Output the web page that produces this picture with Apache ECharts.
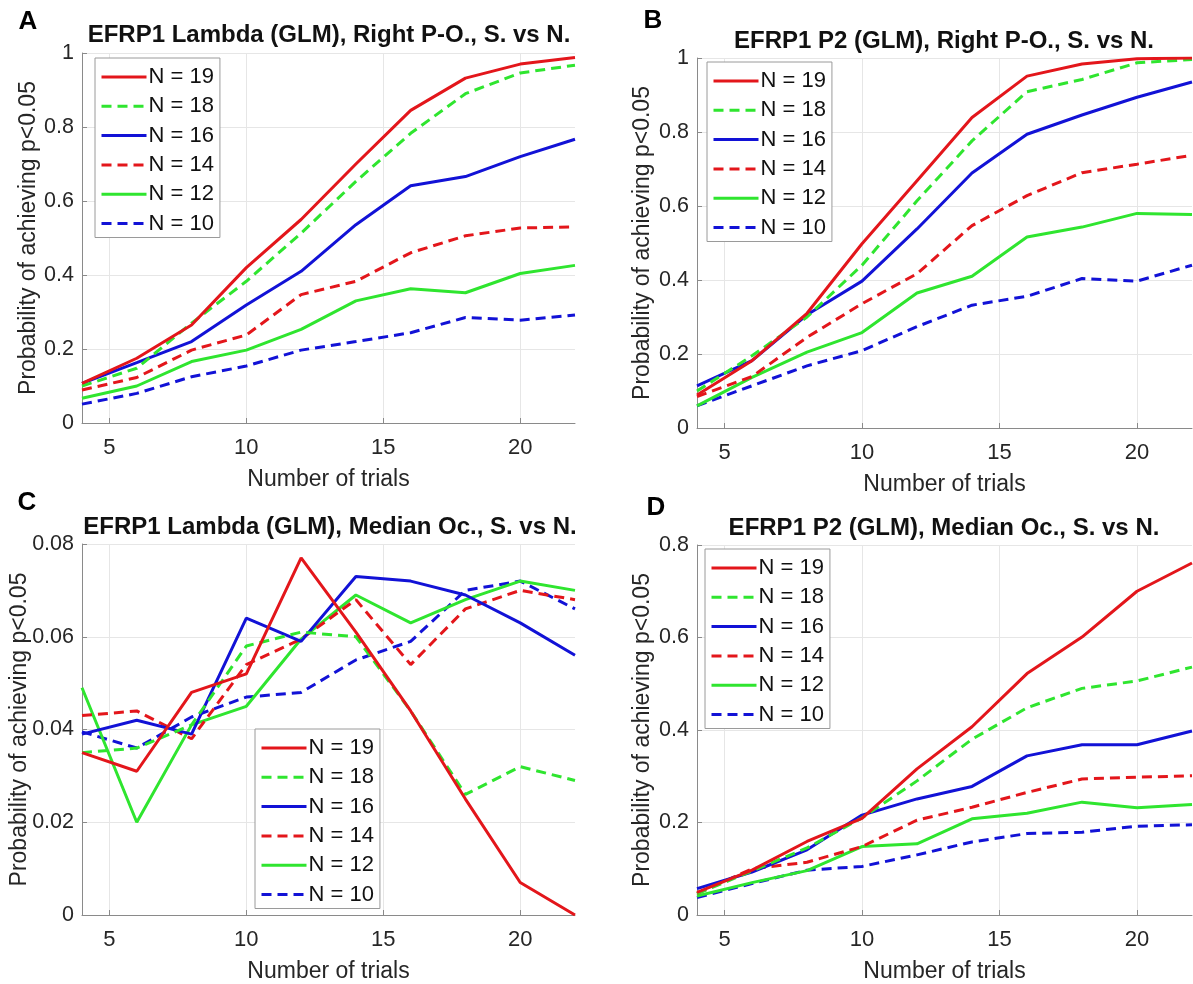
<!DOCTYPE html>
<html><head><meta charset="utf-8">
<script src="https://cdn.jsdelivr.net/npm/echarts@6/dist/echarts.min.js"></script>
<style>html,body{margin:0;padding:0;background:#fff}#c{width:1193px;height:984px}</style>
</head><body><div id="c"></div><script>
// ---- data ----
const trials = [4, 6, 8, 10, 12, 14, 16, 18, 20, 22];
const seriesNames = ['N = 19', 'N = 18', 'N = 16', 'N = 14', 'N = 12', 'N = 10'];
const xTickValues = [5, 10, 15, 20];
const panelTitles = [
  'EFRP1 Lambda (GLM), Right P-O., S. vs N.',
  'EFRP1 P2 (GLM), Right P-O., S. vs N.',
  'EFRP1 Lambda (GLM), Median Oc., S. vs N.',
  'EFRP1 P2 (GLM), Median Oc., S. vs N.'
];
const panelLetters = ['A', 'B', 'C', 'D'];
const xAxisName = 'Number of trials';
const yAxisName = 'Probability of achieving p<0.05';
const yMaxima = [1, 1, 0.08, 0.8];
const yIntervals = [0.2, 0.2, 0.02, 0.2];

// Panel A
const aN19 = [0.107, 0.175, 0.265, 0.420, 0.550, 0.700, 0.845, 0.932, 0.970, 0.988];
const aN18 = [0.100, 0.148, 0.270, 0.383, 0.513, 0.653, 0.783, 0.890, 0.946, 0.967];
const aN16 = [0.107, 0.163, 0.220, 0.319, 0.410, 0.536, 0.641, 0.666, 0.720, 0.767];
const aN14 = [0.089, 0.123, 0.197, 0.238, 0.347, 0.383, 0.460, 0.506, 0.527, 0.530];
const aN12 = [0.067, 0.100, 0.166, 0.197, 0.253, 0.330, 0.363, 0.352, 0.404, 0.426];
const aN10 = [0.051, 0.080, 0.125, 0.154, 0.197, 0.220, 0.244, 0.285, 0.278, 0.292];
// Panel B
const bN19 = [0.089, 0.182, 0.310, 0.498, 0.668, 0.839, 0.951, 0.984, 0.998, 1.000];
const bN18 = [0.100, 0.195, 0.300, 0.440, 0.614, 0.776, 0.909, 0.942, 0.987, 0.996];
const bN16 = [0.114, 0.182, 0.306, 0.397, 0.538, 0.689, 0.794, 0.846, 0.894, 0.935];
const bN14 = [0.085, 0.139, 0.245, 0.336, 0.417, 0.547, 0.628, 0.690, 0.713, 0.737];
const bN12 = [0.060, 0.137, 0.205, 0.258, 0.365, 0.410, 0.516, 0.543, 0.580, 0.577];
const bN10 = [0.060, 0.114, 0.168, 0.209, 0.274, 0.332, 0.356, 0.404, 0.397, 0.440];
// Panel C
const cN19 = [0.035, 0.031, 0.048, 0.052, 0.077, 0.061, 0.044, 0.025, 0.007, 0.000];
const cN18 = [0.035, 0.036, 0.041, 0.058, 0.061, 0.060, 0.044, 0.026, 0.032, 0.029];
const cN16 = [0.039, 0.042, 0.039, 0.064, 0.059, 0.073, 0.072, 0.069, 0.063, 0.056];
const cN14 = [0.043, 0.044, 0.038, 0.054, 0.0595, 0.068, 0.054, 0.066, 0.070, 0.068];
const cN12 = [0.049, 0.020, 0.041, 0.045, 0.0595, 0.069, 0.063, 0.068, 0.072, 0.070];
const cN10 = [0.0395, 0.036, 0.0427, 0.047, 0.048, 0.055, 0.059, 0.070, 0.072, 0.066];
// Panel D
const dN19 = [0.049, 0.097, 0.159, 0.209, 0.316, 0.407, 0.522, 0.601, 0.700, 0.761];
const dN18 = [0.046, 0.095, 0.145, 0.210, 0.290, 0.380, 0.448, 0.490, 0.506, 0.536];
const dN16 = [0.057, 0.093, 0.141, 0.216, 0.251, 0.278, 0.344, 0.368, 0.368, 0.398];
const dN14 = [0.046, 0.100, 0.114, 0.148, 0.205, 0.233, 0.265, 0.294, 0.298, 0.301];
const dN12 = [0.041, 0.070, 0.096, 0.148, 0.154, 0.208, 0.220, 0.244, 0.232, 0.239];
const dN10 = [0.038, 0.068, 0.097, 0.105, 0.130, 0.158, 0.176, 0.179, 0.192, 0.195];

const panels = [
  [aN19, aN18, aN16, aN14, aN12, aN10],
  [bN19, bN18, bN16, bN14, bN12, bN10],
  [cN19, cN18, cN16, cN14, cN12, cN10],
  [dN19, dN18, dN16, dN14, dN12, dN10]
];

// ---- styling / layout ----
const RED = '#e3161b', GREEN = '#2fe52f', BLUE = '#1212d6';
const lineStyles = [
  { color: RED, type: 'solid' },
  { color: GREEN, type: [10, 6] },
  { color: BLUE, type: 'solid' },
  { color: RED, type: [10, 6] },
  { color: GREEN, type: 'solid' },
  { color: BLUE, type: [10, 6] }
];
const FONT = '"Liberation Sans", Arial, Helvetica, sans-serif';
const grids = [
  { left: 82, top: 53, width: 493, height: 370 },
  { left: 697, top: 58, width: 495, height: 370 },
  { left: 82, top: 544, width: 493, height: 371 },
  { left: 697, top: 545, width: 495, height: 370 }
];
const titlePos = [[329, 22], [944, 28], [330, 514], [944, 515]];
const letterPos = [[28, 9], [653, 8], [27, 490], [656, 495]];
const legendPos = [[95, 58], [707, 62], [255, 729], [705, 549]];
const yNameGaps = [42, 43, 51, 43];
const AXIS_COLOR = '#8a8a8a', TEXT_COLOR = '#262626';

const xAxes = grids.map((g, i) => ({
  type: 'value', gridIndex: i, min: 4, max: 22,
  name: xAxisName, nameLocation: 'middle', nameGap: 45, nameMoveOverlap: false,
  nameTextStyle: { fontSize: 23, color: TEXT_COLOR, fontFamily: FONT },
  axisLine: { show: true, lineStyle: { color: AXIS_COLOR, width: 1 } },
  axisTick: { show: true, inside: true, length: 5, customValues: xTickValues, lineStyle: { color: AXIS_COLOR } },
  axisLabel: { customValues: xTickValues, fontSize: 22, color: TEXT_COLOR, margin: 14, fontFamily: FONT },
  splitLine: { show: true, lineStyle: { color: '#e6e6e6', width: 1 } }
}));
const yAxes = grids.map((g, i) => ({
  type: 'value', gridIndex: i, min: 0, max: yMaxima[i], interval: yIntervals[i],
  name: yAxisName, nameLocation: 'middle', nameGap: yNameGaps[i], nameMoveOverlap: false,
  nameTextStyle: { fontSize: 23, color: TEXT_COLOR, fontFamily: FONT },
  axisLine: { show: true, lineStyle: { color: AXIS_COLOR, width: 1 } },
  axisTick: { show: true, inside: true, length: 5, lineStyle: { color: AXIS_COLOR } },
  axisLabel: { fontSize: 21.5, color: TEXT_COLOR, margin: 8, fontFamily: FONT,
    formatter: v => String(parseFloat(Number(v).toFixed(3))) },
  splitLine: { show: true, lineStyle: { color: '#e6e6e6', width: 1 } }
}));

const titles = [];
panelTitles.forEach((t, i) => titles.push({
  text: t, left: titlePos[i][0], top: titlePos[i][1], textAlign: 'center', padding: 0,
  textStyle: { fontSize: 24, fontWeight: 'bold', color: '#111', fontFamily: FONT, lineHeight: 26 }
}));
panelLetters.forEach((t, i) => titles.push({
  text: t, left: letterPos[i][0], top: letterPos[i][1], textAlign: 'center', padding: 0,
  textStyle: { fontSize: 26, fontWeight: 'bold', color: '#000', fontFamily: FONT, lineHeight: 26 }
}));

const legends = legendPos.map(p => ({
  left: p[0], top: p[1], orient: 'vertical', data: seriesNames,
  backgroundColor: '#fff', borderColor: '#9a9a9a', borderWidth: 1,
  padding: [8, 6, 3, 5], itemWidth: 45, itemHeight: 14, itemGap: 7.3, selectedMode: false,
  itemStyle: { opacity: 0 },
  lineStyle: { width: 3 },
  textStyle: { fontSize: 22, color: '#111', fontFamily: FONT, padding: [0, 0, 0, -3] }
}));

const series = [];
panels.forEach((vals, p) => {
  vals.forEach((arr, k) => {
    series.push({
      name: seriesNames[k], type: 'line', xAxisIndex: p, yAxisIndex: p,
      data: trials.map((t, j) => [t, arr[j]]),
      symbol: 'none', smooth: false, silent: true,
      lineStyle: { width: 3, color: lineStyles[k].color, type: lineStyles[k].type },
      itemStyle: { color: lineStyles[k].color },
      z: 2 + (5 - k)
    });
  });
});

const chart = echarts.init(document.getElementById('c'), null, { renderer: 'canvas' });
chart.setOption({
  animation: false,
  backgroundColor: '#fff',
  title: titles,
  legend: legends,
  grid: grids,
  xAxis: xAxes,
  yAxis: yAxes,
  series: series
});
</script></body></html>
